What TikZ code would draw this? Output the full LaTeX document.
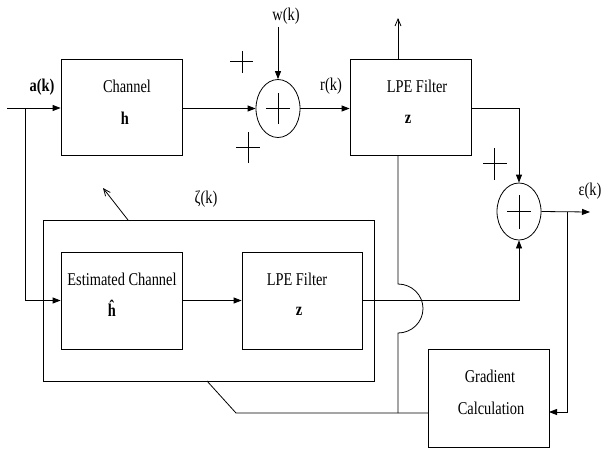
\documentclass[tikz,border=0pt]{standalone}
\usepackage{fontspec}
\setmainfont{Liberation Serif}[FakeStretch=0.8]
\usetikzlibrary{arrows.meta,shapes.geometric}
\begin{document}
\begin{tikzpicture}[x=1pt,y=-1pt,
  line width=0.8pt,
  blk/.style={draw,rectangle,inner sep=0pt},
  sumnode/.style={draw,ellipse,inner sep=0pt,minimum width=44pt,minimum height=58pt},
  lbl/.style={inner sep=0pt,font=\fontsize{18}{20}\selectfont},
  arr/.style={-{Triangle[length=8pt,width=6pt]}},
  oarr/.style={-{Straight Barb[length=7pt,width=6pt]}},
]
\useasboundingbox (0,0) rectangle (602,451);

% blocks
\node[blk,minimum width=121pt,minimum height=96pt] (ch) at (121.5,107.5) {};
\node[blk,minimum width=121pt,minimum height=96pt] (lpe) at (410.5,107.5) {};
\node[blk,minimum width=331pt,minimum height=161pt] (outer) at (208.5,300.5) {};
\node[blk,minimum width=121pt,minimum height=97pt] (est) at (121.5,300.5) {};
\node[blk,minimum width=120pt,minimum height=97pt] (lpe2) at (302,300.5) {};
\node[blk,minimum width=121pt,minimum height=98pt] (grad) at (488.5,398) {};
\node[sumnode] (s1) at (278,108.5) {};
\node[sumnode,minimum height=57pt] (s2) at (519,211.5) {};

% texts
\node[lbl] (tch) at (127,86) {Channel};
\node[lbl] (th) at (125,118) {\textbf{h}};
\node[lbl] (tlpe) at (417,86) {LPE Filter};
\node[lbl] (tz) at (408,119) {\textbf{z}};
\node[lbl] (test) at (122,279) {Estimated Channel};
\node[lbl] (th2) at (112,308) {\textbf{ĥ}};
\node[lbl] (tlpe2) at (297,279) {LPE Filter};
\node[lbl] (tz2) at (299,311) {\textbf{z}};
\node[lbl] (tg1) at (490,376) {Gradient};
\node[lbl] (tg2) at (491,408) {Calculation};
\node[lbl] (ta) at (42,87) {\textbf{a(k)}};
\node[lbl] (tw) at (286,16) {w(k)};
\node[lbl] (tr) at (331,86) {r(k)};
\node[lbl] (te) at (590,191) {ε(k)};
\node[lbl] (tzeta) at (206,199) {ζ(k)};

% plus signs
\draw (230,61) -- (253,61) (242,51) -- (242,73);
\draw (236,147) -- (260,147) (248,132) -- (248,163);
\draw (483,163) -- (507,163) (494,148) -- (494,180);
\draw ([xshift=-12pt]s1.center) -- ([xshift=12pt]s1.center)
      ([yshift=-15.5pt]s1.center) -- ([yshift=15.5pt]s1.center);
\draw ([xshift=-12pt]s2.center) -- ([xshift=12pt]s2.center)
      ([yshift=-17pt]s2.center) -- ([yshift=17pt]s2.center);

% coordinates
\coordinate (in) at (7,108);
\coordinate (br) at (25,108);
\coordinate (wtop) at (278,27);
\coordinate (up) at (398,18);
\coordinate (out) at (590,212);
\coordinate (br2) at (567,212);
\coordinate (gin) at (549,412);
\coordinate (j1) at (398,284);
\coordinate (jb) at (398,413);
\coordinate (gl) at (428,413);
\coordinate (k1) at (236,413);
\coordinate (k2) at (207,381);
\coordinate (zs) at (128,220);
\coordinate (ze) at (103,188);

% connectors
\draw[arr] (in) -- (in -| ch.west);
\draw[arr] (br) |- (est.west);
\draw[arr] (ch.east |- s1.west) -- (s1.west);
\draw[arr] (s1.east) -- (s1.east -| lpe.west);
\draw[arr] (wtop) -- (s1.north);
\draw[oarr] (up |- lpe.north) -- (up);
\draw[arr] (lpe.east |- in) -| (s2.north);
\draw[arr] (s2.east) -- (out);
\draw[arr] (br2) |- (gin);
\draw[arr] (est.east) -- (lpe2.west);
\draw[arr] (lpe2.east) -| (s2.south);
\draw (up |- lpe.south) -- (j1) arc[start angle=90,end angle=-90,x radius=25pt,y radius=24.5pt] -- (jb);
\draw (gl) -- (k1) -- (k2);
\draw[oarr] (zs) -- (ze);
\end{tikzpicture}
\end{document}
